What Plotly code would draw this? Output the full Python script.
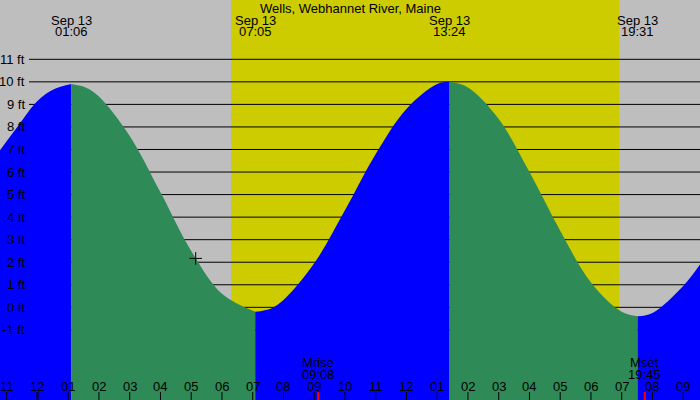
import plotly.graph_objects as go

location = "Wells, Webhannet River, Maine"
date_label = "Sep 13"

# high / low water times
event_times = ["01:06", "07:05", "13:24", "19:31"]

# water level (ft), split at each high/low
rise1_hours = [-1.218, -0.6, 0.0, 0.55, 1.1]
rise1_levels = [6.97, 8.1, 9.15, 9.68, 9.9]
fall1_hours = [1.1, 1.6, 2, 3, 4, 5, 6, 7.083]
fall1_levels = [9.9, 9.73, 9.35, 7.6, 5.1, 2.5, 0.6, -0.2]
rise2_hours = [7.083, 7.6, 8, 9, 10, 11, 12, 13, 13.4]
rise2_levels = [-0.2, -0.05, 0.32, 1.95, 4.3, 6.8, 8.8, 9.9, 10.0]
fall2_hours = [13.4, 14, 15, 16, 17, 18, 19, 19.517]
fall2_levels = [10.0, 9.75, 8.35, 6.0, 3.4, 1.1, -0.2, -0.4]
rise3_hours = [19.517, 20, 21, 21.546]
rise3_levels = [-0.4, -0.25, 0.95, 1.9]

sunrise = "06:18"
sunset = "18:55"

moon_names = ["Mrise", "Mset"]
moon_times = ["09:08", "19:45"]

now_hour = 5.146
now_level = 2.17

ft_levels = list(range(-1, 12))
hour_ticks = list(range(-1, 22))
hour_labels = ["11", "12", "01", "02", "03", "04", "05", "06", "07", "08", "09", "10",
               "11", "12", "01", "02", "03", "04", "05", "06", "07", "08", "09"]

BLUE = "#0000FF"
GREEN = "#2E8B57"
GREY = "#BEBEBE"
YELLOW = "#CCCC00"
FONT = dict(family="Liberation Sans, Arial, sans-serif", size=13, color="black")

x_range = [-1.218, 21.546]
y_range = [-4.11, 13.63]


def to_h(s):
    hh, mm = s.split(":")
    return int(hh) + int(mm) / 60


fig = go.Figure()

segments = [(rise1_hours, rise1_levels, BLUE),
            (fall1_hours, fall1_levels, GREEN),
            (rise2_hours, rise2_levels, BLUE),
            (fall2_hours, fall2_levels, GREEN),
            (rise3_hours, rise3_levels, BLUE)]

for hrs, lvl, col in segments:
    # floor line well below the plot so the fill runs to the bottom edge
    fig.add_trace(go.Scatter(x=[hrs[0], hrs[-1]], y=[-10, -10], mode="lines",
                             line=dict(width=0, color=col), hoverinfo="skip"))
    fig.add_trace(go.Scatter(x=hrs, y=lvl, mode="lines", fill="tonexty",
                             fillcolor=col, line=dict(width=0, color=col, shape="spline"),
                             hoverinfo="skip"))

fig.add_trace(go.Scatter(x=[now_hour], y=[now_level], mode="markers",
                         marker=dict(symbol="cross-thin", size=9,
                                     line=dict(width=1, color="black")),
                         hoverinfo="skip"))

shapes = [dict(type="rect", xref="x", yref="paper", x0=to_h(sunrise), x1=to_h(sunset),
               y0=0, y1=1, fillcolor=YELLOW, line=dict(width=0), layer="below")]
for v in ft_levels:
    shapes.append(dict(type="line", xref="x", yref="y", x0=-0.275, x1=x_range[1],
                       y0=v, y1=v, line=dict(color="black", width=1), layer="below"))
for h in hour_ticks:
    shapes.append(dict(type="line", xref="x", yref="paper", x0=h, x1=h, y0=0, y1=0.02,
                       line=dict(color="black", width=2 if h == 0 else 1)))
for t in moon_times:
    shapes.append(dict(type="line", xref="x", yref="paper", x0=to_h(t), x1=to_h(t),
                       y0=0, y1=0.02, line=dict(color="red", width=2)))

annotations = [dict(text=location, xref="paper", yref="paper", x=0.5, y=1 - 8 / 400,
                    showarrow=False, font=FONT, yanchor="middle")]
for v in ft_levels:
    annotations.append(dict(text=f"{v} ft", xref="paper", yref="y", x=27 / 700, y=v,
                            xanchor="right", yanchor="middle", showarrow=False, font=FONT))
for t in event_times:
    annotations.append(dict(text=date_label, xref="x", yref="paper", x=to_h(t),
                            y=1 - 20 / 400, yanchor="middle", showarrow=False, font=FONT))
    annotations.append(dict(text=t, xref="x", yref="paper", x=to_h(t),
                            y=1 - 32 / 400, yanchor="middle", showarrow=False, font=FONT))
for h, lab in zip(hour_ticks, hour_labels):
    annotations.append(dict(text=lab, xref="x", yref="paper", x=h, y=14 / 400,
                            yanchor="middle", showarrow=False, font=FONT))
for name, t in zip(moon_names, moon_times):
    annotations.append(dict(text=name, xref="x", yref="paper", x=to_h(t), y=38 / 400,
                            yanchor="middle", showarrow=False, font=FONT))
    annotations.append(dict(text=t, xref="x", yref="paper", x=to_h(t), y=26 / 400,
                            yanchor="middle", showarrow=False, font=FONT))

fig.update_layout(
    width=700, height=400,
    margin=dict(l=0, r=0, t=0, b=0),
    paper_bgcolor=GREY, plot_bgcolor=GREY,
    showlegend=False,
    xaxis=dict(range=x_range, visible=False, fixedrange=True),
    yaxis=dict(range=y_range, visible=False, fixedrange=True),
    shapes=shapes,
    annotations=annotations,
)

fig.write_html("out.html", config={"displayModeBar": False},
               post_script="document.body.style.margin = '0px';")
